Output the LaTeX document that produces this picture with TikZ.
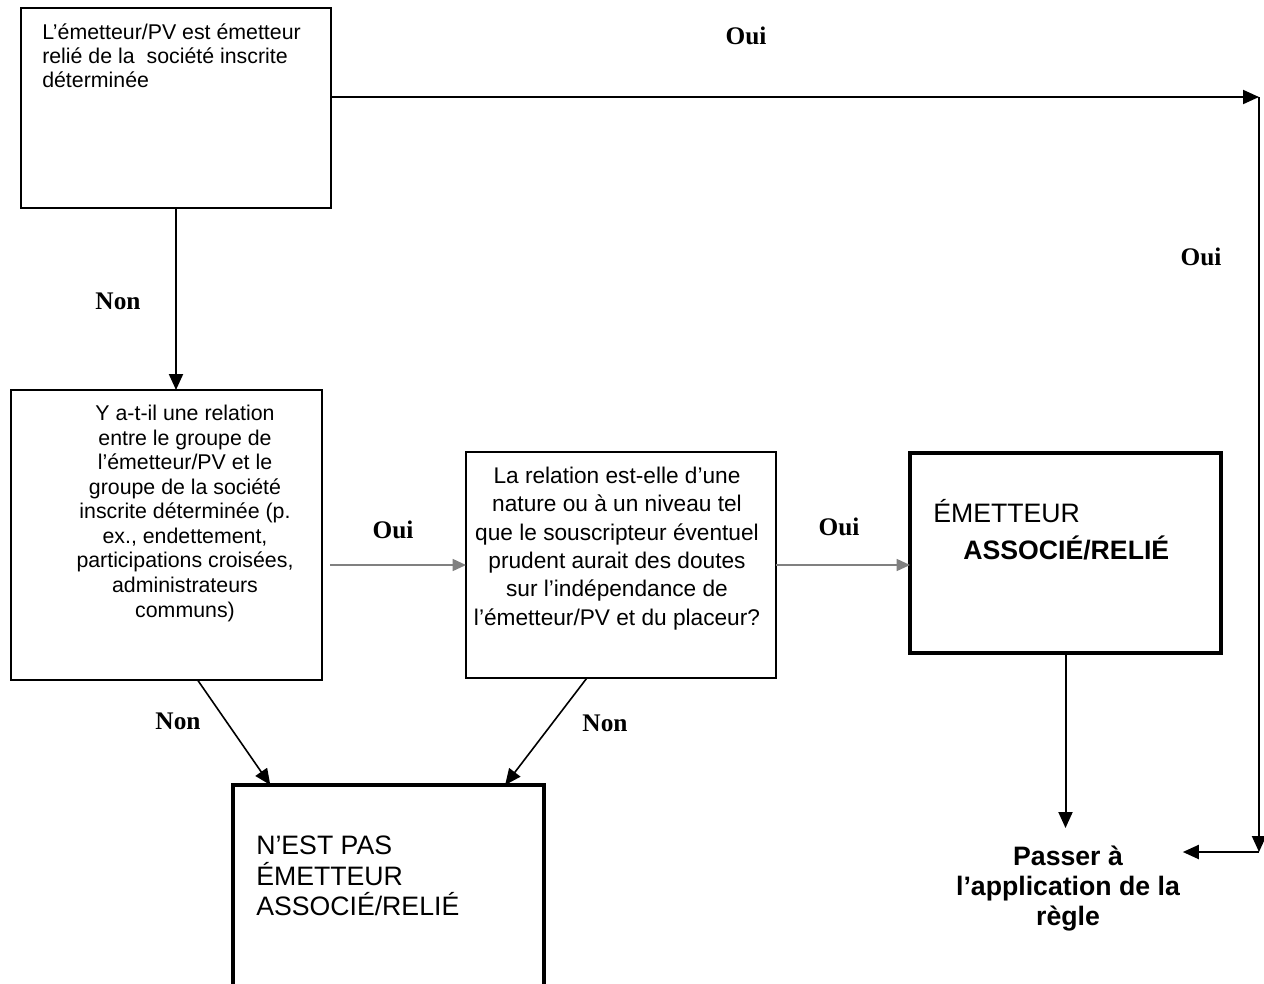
\documentclass[tikz,border=0pt]{standalone}
\usepackage{fontspec}
\setmainfont{Liberation Sans}
\newfontfamily\answerfont{Liberation Serif}
\usetikzlibrary{arrows.meta,calc}
\tikzset{
  box/.style={draw, rectangle, line width=1.1pt, inner sep=0pt, outer sep=0pt},
  thickbox/.style={box, line width=3pt},
  txt/.style={inner sep=0pt, font=\fontsize{16}{18.4}\selectfont},
  midtxt/.style={inner sep=0pt, font=\fontsize{17}{21.2}\selectfont},
  bigtxt/.style={inner sep=0pt, font=\fontsize{20}{22.8}\selectfont},
  bigbold/.style={inner sep=0pt, font=\bfseries\fontsize{20}{22.5}\selectfont},
  answer/.style={inner sep=0pt, font=\answerfont\bfseries\fontsize{19}{22}\selectfont},
  flow/.style={line width=1.5pt, -{Triangle[length=12pt,width=10.5pt]}},
  grayflow/.style={line width=1.1pt, gray, -{Triangle[length=10pt,width=9pt]}}
}
\begin{document}
\begin{tikzpicture}[x=0.75pt,y=-0.75pt]
                    \useasboundingbox (0,0) rectangle (1264,983);
                    \clip (0,0) rectangle (1264,983);
                    
                    % Drawing box question 1
                    \node [box, line width=1.5pt, minimum width=232.5pt, minimum height=150pt] (q1) at (176,108) {};%
                    \node [txt, font=\fontsize{16}{18}\selectfont, anchor=north west, align=left] (q1txt) at (42,24) {L’émetteur/PV est émetteur\\relié de la \ société inscrite\\déterminée};%
                    
                    % Drawing box question 2
                    \node [box, minimum width=233.25pt, minimum height=217.5pt] (q2) at (166.5,535) {};%
                    \node [txt, anchor=north, align=center] (q2txt) at (185,405) {Y a-t-il une relation\\entre le groupe de\\l’émetteur/PV et le\\groupe de la société\\inscrite déterminée (p.\\ex., endettement,\\participations croisées,\\administrateurs\\communs)};%
                    
                    % Drawing box question 3
                    \node [box, minimum width=232.5pt, minimum height=169.5pt] (q3) at (621,565) {};%
                    \node [midtxt, anchor=north, align=center] (q3txt) at (617,467) {La relation est-elle d’une\\nature ou à un niveau tel\\que le souscripteur éventuel\\prudent aurait des doutes\\sur l’indépendance de\\l’émetteur/PV et du placeur?};%
                    
                    % Drawing box answer yes
                    \node [thickbox, minimum width=233.25pt, minimum height=150pt] (yes) at (1065.5,553) {};%
                    \node [bigtxt, anchor=base west] (yestxt) at (933,522) {ÉMETTEUR};%
                    \node [bigbold, anchor=base west] (yesbold) at (963,559) {ASSOCIÉ/RELIÉ};%
                    
                    % Drawing box answer no
                    \node [thickbox, minimum width=233.25pt, minimum height=168.75pt] (no) at (388.5,897.5) {};%
                    \node [bigtxt, anchor=north west, align=left] (notxt) at (256,836) {N’EST PAS\\ÉMETTEUR\\ASSOCIÉ/RELIÉ};%
                    
                    % Drawing text next step
                    \node [bigbold, inner xsep=2pt, inner ysep=13.5pt, anchor=north, align=center] (passer) at (1068,828) {Passer à\\l’application de la\\règle};%
                    
                    % Drawing arrows Oui on the right
                    \coordinate (tr) at (1259,97);%
                    \coordinate (br) at (1259,852);%
                    \draw [flow] (q1.east |- tr) -- (tr);%
                    \draw [flow] (tr) -- (br);%
                    \draw [flow] (br) -- (br -| passer.east);%
                    
                    % Drawing arrow Non below question 1
                    \draw [flow] (q1.south) -- (q1.south |- q2.north);%
                    
                    % Drawing arrows Oui in the middle
                    \draw [grayflow, shorten <=6pt] (q2.east |- q3.west) -- (q3.west);%
                    \draw [grayflow] (q3.east) -- (q3.east -| yes.west);%
                    
                    % Drawing arrow below answer yes
                    \draw [flow] (yes.south) -- (yes.south |- passer.north);%
                    
                    % Drawing arrows Non to answer no
                    \draw [flow, line width=1.2pt] ($(q2.south west)!0.6!(q2.south east)$) -- ($(no.north west)!0.12!(no.north east)$);%
                    \draw [flow, line width=1.2pt] ($(q3.south west)!0.39!(q3.south east)$) -- ($(no.north west)!0.875!(no.north east)$);%
                    
                    % Marking labels Oui and Non
                    \node [answer] (oui1) at (746,36) {Oui};%
                    \node [answer] (oui2) at (1201,257) {Oui};%
                    \node [answer] (non1) at (118,301) {Non};%
                    \node [answer] (oui3) at (393,530) {Oui};%
                    \node [answer] (oui4) at (839,527) {Oui};%
                    \node [answer] (non2) at (178,721) {Non};%
                    \node [answer] (non3) at (605,723) {Non};%
\end{tikzpicture}
\end{document}
